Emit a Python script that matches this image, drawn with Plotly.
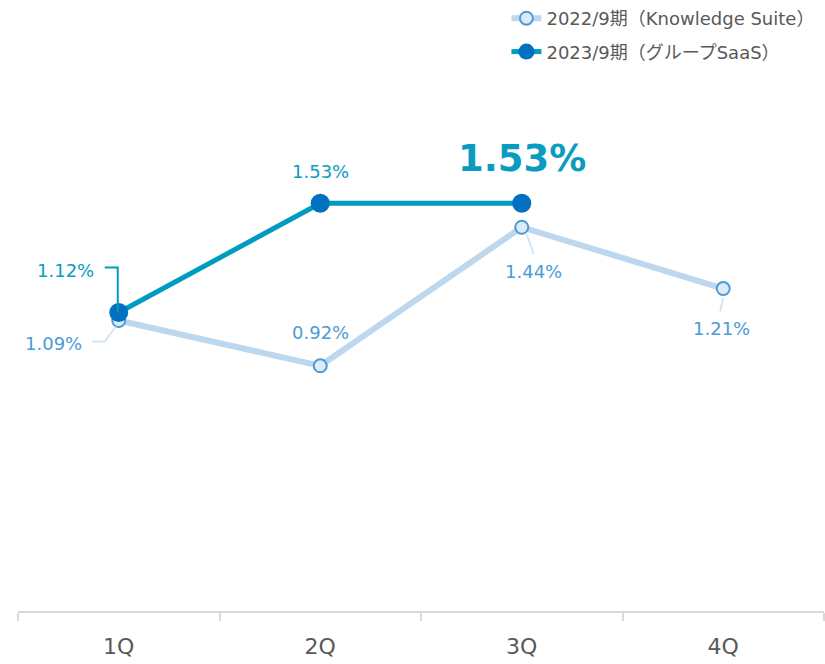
import plotly.graph_objects as go

quarters = ["1Q", "2Q", "3Q", "4Q"]
fy2022_name = "2022/9期（Knowledge Suite）"
fy2022_values = [1.09, 0.92, 1.44, 1.21]
fy2023_name = "2023/9期（グループSaaS）"
fy2023_values = [1.12, 1.53, 1.53]

FONT = "DejaVu Sans, Noto Sans CJK JP, sans-serif"
C22_LINE = "#BDD7EE"
C22_MARK_FILL = "#DDEBF7"
C22_MARK_LINE = "#4A9BDA"
C22_TEXT = "#4A9BD6"
C22_LEADER = "#D6E5F4"
C23_LINE = "#009CC0"
C23_MARK = "#0070C0"
C23_TEXT = "#0A9CC0"

fig = go.Figure()
fig.add_trace(go.Scatter(
    x=quarters, y=fy2022_values, name=fy2022_name, mode="lines+markers",
    legendgroup="a",
    line=dict(color=C22_LINE, width=6),
    marker=dict(size=13, color=C22_MARK_FILL, line=dict(color=C22_MARK_LINE, width=2)),
    hoverinfo="skip",
))
fig.add_trace(go.Scatter(
    x=quarters[:len(fy2023_values)], y=fy2023_values, name=fy2023_name, mode="lines+markers",
    legendgroup="b",
    line=dict(color=C23_LINE, width=5),
    marker=dict(size=19, color=C23_MARK),
    hoverinfo="skip",
))

fmt = lambda v: f"{v:.2f}%"

# label offsets (pixels) for each point: (xshift, yshift)
off22 = [(-65, -23), (0, 33), (12, -44), (-2, -40)]
off23 = [(-53, 42), (0, 32), (0, 45)]

anns = []
for i, (q, v) in enumerate(zip(quarters, fy2022_values)):
    dx, dy = off22[i]
    anns.append(dict(x=q, y=v, xref="x", yref="y", text=fmt(v), showarrow=False,
                     xshift=dx, yshift=dy, font=dict(family=FONT, size=18, color=C22_TEXT)))
for i, (q, v) in enumerate(zip(quarters, fy2023_values)):
    dx, dy = off23[i]
    big = i == len(fy2023_values) - 1
    anns.append(dict(x=q, y=v, xref="x", yref="y",
                     text=f"<b>{fmt(v)}</b>" if big else fmt(v), showarrow=False,
                     xshift=dx, yshift=dy,
                     font=dict(family=FONT, size=37 if big else 18, color=C23_TEXT)))

def leader(q, v, path, color):
    return dict(type="path", xref="x", yref="y", xsizemode="pixel", ysizemode="pixel",
                xanchor=q, yanchor=v, path=path, line=dict(color=color, width=2))

shapes = [
    leader(quarters[0], fy2023_values[0], "M -14,45 L -1,45 L -1,0", C23_LINE),
    leader(quarters[0], fy2022_values[0], "M -27,-21 L -14,-21 L -3,-6", C22_LEADER),
    leader(quarters[2], fy2022_values[2], "M 5,-7 L 12,-27", C22_LEADER),
    leader(quarters[3], fy2022_values[3], "M 0,-9 L -3,-23", C22_LEADER),
]

fig.update_layout(
    width=825, height=664,
    margin=dict(l=18, r=1, t=0, b=53),
    paper_bgcolor="white", plot_bgcolor="white",
    font=dict(family=FONT, color="#595959"),
    annotations=anns, shapes=shapes,
    showlegend=True,
    legend=dict(x=0.606, y=1.0, xanchor="left", yanchor="top",
                font=dict(family=FONT, size=18, color="#595959"),
                tracegroupgap=7, bgcolor="rgba(0,0,0,0)"),
    xaxis=dict(type="category", categoryorder="array", categoryarray=quarters,
               range=[-0.5, 3.5], showgrid=False, zeroline=False,
               showline=True, linecolor="#D9D9D9", linewidth=2,
               ticks="outside", tickson="boundaries", ticklen=8, tickcolor="#D9D9D9",
               tickwidth=2, tickfont=dict(family=FONT, size=22, color="#595959"),
               ticklabelstandoff=15, fixedrange=True),
    yaxis=dict(range=[0, 611 / 266.5], visible=False, showgrid=False, zeroline=False,
               fixedrange=True),
)

fig.write_html("out.html", config={"displayModeBar": False},
               post_script="document.body.style.margin='0';")
